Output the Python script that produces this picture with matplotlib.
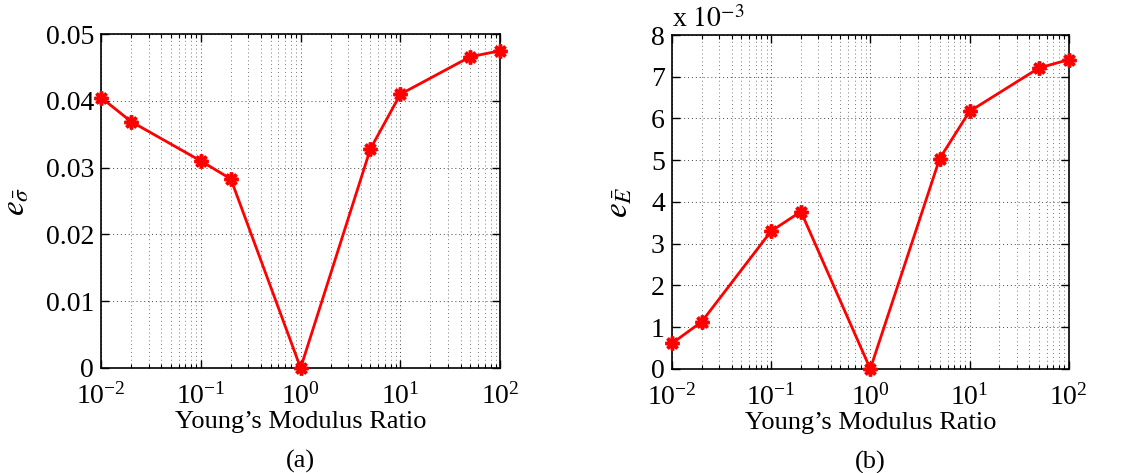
import matplotlib
matplotlib.use('Agg')
import matplotlib.pyplot as plt
import matplotlib.ticker as ticker
import numpy as np

plt.rcParams['font.family'] = ['Liberation Serif', 'DejaVu Serif']
plt.rcParams['mathtext.fontset'] = 'stix'

# datos
ratio = [0.01, 0.02, 0.1, 0.2, 1, 5, 10, 50, 100]
err_sigma = [0.0405, 0.0369, 0.0310, 0.0283, 0.0, 0.0328, 0.0410, 0.0466, 0.0475]
err_E = [0.61, 1.13, 3.30, 3.77, 0.0, 5.04, 6.17, 7.21, 7.41]  # x 10^-3

fig = plt.figure(figsize=(11.31, 4.73), dpi=100)
ax1 = fig.add_axes([0.0893, 0.222, 0.353, 0.706])
ax2 = fig.add_axes([0.594, 0.220, 0.351, 0.706])

def estilo(ax):
    ax.set_xscale('log')
    ax.set_xlim(0.01, 100)
    ax.xaxis.set_major_locator(ticker.LogLocator(base=10, numticks=10))
    ax.xaxis.set_minor_locator(ticker.LogLocator(base=10, subs=np.arange(2, 10), numticks=10))
    ax.xaxis.set_minor_formatter(ticker.NullFormatter())
    ax.grid(True, which='major', axis='both', linestyle=(0, (1, 3)), color='#444444', linewidth=0.7)
    ax.grid(True, which='minor', axis='x', linestyle=(0, (1, 3)), color='#777777', linewidth=0.7)
    ax.tick_params(which='both', direction='in', top=True, right=True, labelsize=20)
    ax.tick_params(which='major', length=6, width=1)
    ax.tick_params(which='minor', length=3, width=0.8)
    ax.tick_params(axis='x', pad=11)
    ax.tick_params(axis='y', pad=5)
    for s in ax.spines.values():
        s.set_linewidth(1.2)
    ax.set_xlabel("Young\u2019s Modulus Ratio", fontsize=19, labelpad=1)

ax1.plot(ratio, err_sigma, color='red', linewidth=2, marker=(8, 2, 0), markersize=10, markeredgewidth=2.5, clip_on=False, zorder=3)
estilo(ax1)
ax1.set_ylim(0, 0.05)
ax1.set_yticks([0, 0.01, 0.02, 0.03, 0.04, 0.05])
ax1.set_yticklabels(['0', '0.01', '0.02', '0.03', '0.04', '0.05'])
ax1.set_ylabel(r'$e_{\bar{\sigma}}$', fontsize=24, labelpad=10)
ax1.text(0.5, -0.28, '(a)', transform=ax1.transAxes, ha='center', va='center', fontsize=19)

ax2.plot(ratio, err_E, color='red', linewidth=2, marker=(8, 2, 0), markersize=10, markeredgewidth=2.5, clip_on=False, zorder=3)
estilo(ax2)
ax2.set_ylim(0, 8)
ax2.set_yticks(range(0, 9))
ax2.set_ylabel(r'$e_{\bar{E}}$', fontsize=24, labelpad=12)
ax2.text(0.0, 1.005, r'x $10^{-3}$', transform=ax2.transAxes, ha='left', va='bottom', fontsize=20)
ax2.text(0.5, -0.28, '(b)', transform=ax2.transAxes, ha='center', va='center', fontsize=19)

plt.savefig('out.png', dpi=100)
